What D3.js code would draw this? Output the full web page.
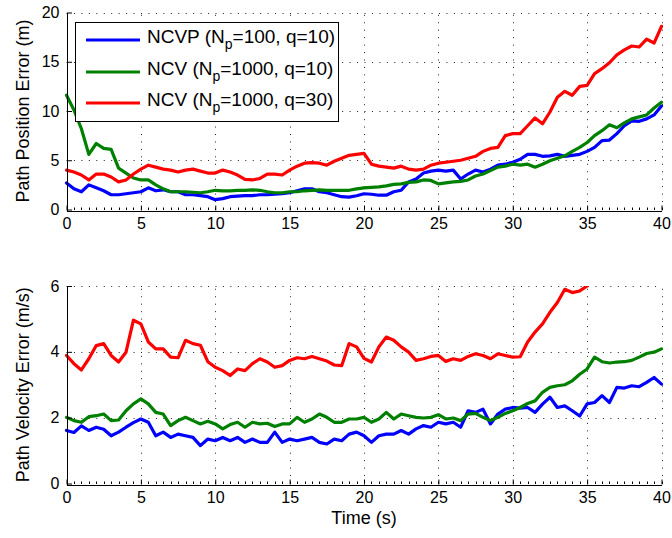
<!DOCTYPE html>
<html><head><meta charset="utf-8">
<script src="https://cdn.jsdelivr.net/npm/d3@7"></script>
<style>
html,body{margin:0;padding:0;background:#fff;}
svg{display:block;font-family:"Liberation Sans",Arial,Helvetica,sans-serif;}
</style></head><body>
<svg id="chart" width="672" height="538"></svg>
<script>
// ---------- data ----------
const time = [0,0.5,1,1.5,2,2.5,3,3.5,4,4.5,
  5,5.5,6,6.5,7,7.5,8,8.5,9,9.5,
  10,10.5,11,11.5,12,12.5,13,13.5,14,14.5,
  15,15.5,16,16.5,17,17.5,18,18.5,19,19.5,
  20,20.5,21,21.5,22,22.5,23,23.5,24,24.5,
  25,25.5,26,26.5,27,27.5,28,28.5,29,29.5,
  30,30.5,31,31.5,32,32.5,33,33.5,34,34.5,
  35,35.5,36,36.5,37,37.5,38,38.5,39,39.5,
  40];
const xTicks = [0,5,10,15,20,25,30,35,40];
const posTicks = [0,5,10,15,20];
const velTicks = [0,2,4,6];
const seriesNames = ["NCVP (N_p=100, q=10)", "NCV (N_p=1000, q=10)", "NCV (N_p=1000, q=30)"];
const seriesColors = ["#0000ff", "#008000", "#ff0000"];
const xLabel = "Time (s)";
const posLabel = "Path Position Error (m)";
const velLabel = "Path Velocity Error (m/s)";

// Path position error
const posNCVP = [2.7,2.1,1.8,2.5,2.2,1.9,1.5,1.5,1.6,1.7,
  1.8,2.2,1.9,2.0,1.8,1.8,1.5,1.5,1.4,1.3,
  1.0,1.1,1.3,1.35,1.4,1.4,1.5,1.5,1.55,1.6,
  1.7,1.9,2.1,2.1,1.8,1.7,1.5,1.3,1.25,1.4,
  1.6,1.55,1.45,1.45,1.8,1.95,2.8,3.1,3.7,3.9,
  4.0,3.9,4.0,3.1,3.6,4.0,3.8,4.1,4.5,4.6,
  4.8,5.1,5.6,5.6,5.4,5.45,5.6,5.4,5.5,5.6,
  5.9,6.3,7.0,7.05,7.7,8.5,9.0,8.95,9.2,9.6,
  10.5];
const posNCV10 = [11.6,10.1,8.2,5.6,6.7,6.2,6.1,4.2,3.7,3.2,
  3.0,3.0,2.5,2.1,1.8,1.8,1.8,1.75,1.7,1.8,
  1.95,1.9,1.9,1.95,1.95,2.0,1.95,1.8,1.7,1.7,
  1.8,1.8,1.9,1.95,2.0,1.95,1.95,1.95,1.95,2.1,
  2.2,2.25,2.3,2.4,2.55,2.6,2.75,2.8,3.0,2.95,
  2.6,2.7,2.8,2.85,3.0,3.4,3.6,3.95,4.3,4.4,
  4.6,4.5,4.6,4.3,4.6,4.95,5.2,5.45,5.9,6.3,
  6.8,7.5,8.0,8.6,8.3,8.8,9.2,9.4,9.6,10.3,
  10.9];
const posNCV30 = [4.0,3.8,3.5,3.0,3.6,3.6,3.3,2.8,3.0,3.6,
  4.1,4.5,4.3,4.1,4.0,3.8,4.0,4.1,3.9,3.7,
  3.7,4.0,3.8,3.5,3.05,3.0,3.15,3.6,3.6,3.5,
  4.0,4.4,4.7,4.75,4.7,4.5,4.9,5.2,5.5,5.6,
  5.7,4.6,4.4,4.3,4.2,4.4,4.1,4.0,4.1,4.5,
  4.7,4.8,4.9,5.0,5.2,5.4,5.9,6.2,6.3,7.5,
  7.7,7.7,8.5,9.3,8.7,9.9,11.4,12.0,11.6,12.5,
  12.6,13.8,14.3,14.9,15.7,16.2,16.6,16.5,17.3,16.9,
  18.6];

// Path velocity error
const velNCVP = [1.61,1.55,1.75,1.61,1.71,1.65,1.45,1.56,1.71,1.85,
  1.96,1.86,1.45,1.56,1.4,1.5,1.45,1.4,1.15,1.35,
  1.3,1.4,1.3,1.4,1.25,1.35,1.25,1.25,1.56,1.25,
  1.35,1.3,1.35,1.4,1.25,1.2,1.35,1.3,1.5,1.56,
  1.45,1.25,1.45,1.5,1.5,1.61,1.5,1.66,1.76,1.71,
  1.86,1.81,1.86,1.71,2.21,2.16,2.26,1.81,2.11,2.26,
  2.31,2.29,2.31,2.16,2.41,2.62,2.31,2.36,2.21,2.05,
  2.42,2.46,2.67,2.46,2.92,2.9,2.97,2.94,3.07,3.22,
  3.02];
const velNCV10 = [2.01,1.91,1.86,2.03,2.06,2.11,1.91,1.93,2.21,2.42,
  2.57,2.42,2.16,2.11,1.76,1.91,2.01,1.91,1.81,1.89,
  1.81,1.66,1.79,1.86,1.71,1.86,1.81,1.83,1.73,1.81,
  1.81,2.01,1.86,1.96,2.11,2.01,1.86,1.86,1.96,1.96,
  2.01,1.86,1.96,2.16,1.96,2.11,2.06,2.01,1.99,2.01,
  2.09,1.96,1.99,1.91,2.11,2.13,2.01,1.91,2.01,2.13,
  2.21,2.31,2.43,2.51,2.77,2.92,2.97,3.0,3.12,3.32,
  3.48,3.84,3.7,3.66,3.69,3.7,3.74,3.84,3.95,3.99,
  4.09];
const velNCV30 = [3.89,3.64,3.45,3.79,4.19,4.25,3.89,3.69,3.99,4.96,
  4.85,4.3,4.09,4.09,3.84,3.82,4.35,4.25,4.2,3.7,
  3.53,3.43,3.28,3.48,3.43,3.64,3.79,3.69,3.53,3.58,
  3.74,3.82,3.79,3.86,3.79,3.72,3.6,3.58,4.25,4.15,
  3.8,3.69,4.15,4.45,4.35,4.15,3.99,3.74,3.79,3.86,
  3.89,3.71,3.79,3.74,3.86,3.94,3.89,3.79,3.94,3.89,
  3.84,3.85,4.3,4.6,4.85,5.2,5.5,5.9,5.8,5.85,
  6.0,null,null,null,null,null,null,null,null,null,
  null];

// ---------- drawing ----------
const svg = d3.select("#chart");
const x = d3.scaleLinear().domain([0, 40]).range([66.5, 661.5]);
const minorTicks = d3.range(0, 40.001, 0.5);
const fontTick = 16, fontLabel = 18, fontLegend = 19;

function panel(id, yDomain, yRange, yTicks, seriesData, yLabel, withXLabel, withLegend) {
  const y = d3.scaleLinear().domain(yDomain).range(yRange);
  const g = svg.append("g");
  const yTop = y(yDomain[1]), yBot = y(yDomain[0]);
  const dash = "1,6.45";

  // dotted grid
  g.append("g").selectAll("line").data(xTicks.filter(v => v > 0)).join("line")
    .attr("x1", d => Math.round(x(d)) + 0.5).attr("x2", d => Math.round(x(d)) + 0.5)
    .attr("y1", yBot).attr("y2", yTop)
    .attr("stroke", "#222").attr("stroke-width", 1).attr("stroke-dasharray", dash);
  g.append("g").selectAll("line").data(yTicks.filter(v => v > yDomain[0])).join("line")
    .attr("x1", x(0)).attr("x2", x(40))
    .attr("y1", d => Math.round(y(d)) + 0.5).attr("y2", d => Math.round(y(d)) + 0.5)
    .attr("stroke", "#222").attr("stroke-width", 1).attr("stroke-dasharray", dash);

  // clip
  g.append("clipPath").attr("id", "clip" + id).append("rect")
    .attr("x", x(0) - 3).attr("y", yTop).attr("width", x(40) - x(0) + 6).attr("height", yBot - yTop);

  const line = d3.line().defined(d => d[1] !== null)
    .x(d => x(d[0])).y(d => y(d[1])).curve(d3.curveLinear);
  g.append("g").attr("clip-path", `url(#clip${id})`)
    .selectAll("path").data(seriesData).join("path")
    .attr("d", (s) => line(time.map((t, i) => [t, s[i]])))
    .attr("fill", "none")
    .attr("stroke", (s, i) => seriesColors[i])
    .attr("stroke-width", 3.2)
    .attr("stroke-linejoin", "round").attr("stroke-linecap", "round");

  // minor x ticks
  g.append("g").selectAll("line").data(minorTicks).join("line")
    .attr("x1", d => Math.round(x(d)) + 0.5).attr("x2", d => Math.round(x(d)) + 0.5)
    .attr("y1", Math.round(yBot)).attr("y2", Math.round(yBot) - 2.5)
    .attr("stroke", "#000").attr("stroke-width", 1);

  // axes
  const xa = g.append("g").attr("transform", `translate(0,${Math.round(yBot) + 0.5})`)
    .call(d3.axisBottom(x).tickValues(xTicks).tickFormat(d3.format("d"))
      .tickSizeInner(-5).tickSizeOuter(0).tickPadding(7));
  const ya = g.append("g").attr("transform", `translate(${x(0)},0)`)
    .call(d3.axisLeft(y).tickValues(yTicks).tickFormat(d3.format("d"))
      .tickSizeInner(-5).tickSizeOuter(0).tickPadding(7));
  [xa, ya].forEach(a => {
    a.select(".domain").attr("stroke", "#000").attr("stroke-width", 1).attr("shape-rendering", "crispEdges");
    a.selectAll(".tick line").attr("stroke", "#000");
    a.selectAll("text").attr("font-size", fontTick).attr("fill", "#000")
      .attr("font-family", '"Liberation Sans",Arial,Helvetica,sans-serif');
  });
  ya.select(".domain").attr("d", `M0.5,${Math.round(yBot)+0.5}V${yTop}`);
  ya.selectAll(".tick line").attr("transform", "translate(0.5,0)");

  // y label
  svg.append("text")
    .attr("transform", `translate(29,${(yTop + yBot) / 2}) rotate(-90)`)
    .attr("text-anchor", "middle").attr("font-size", fontLabel).attr("fill", "#000")
    .text(yLabel);

  if (withXLabel) {
    svg.append("text").attr("x", (x(0) + x(40)) / 2).attr("y", 524)
      .attr("text-anchor", "middle").attr("font-size", fontLabel).attr("fill", "#000")
      .text(xLabel);
  }

  if (withLegend) {
    const lg = svg.append("g");
    lg.append("rect").attr("x", 75.5).attr("y", 22.5).attr("width", 263).attr("height", 99)
      .attr("fill", "#fff").attr("stroke", "#000").attr("stroke-width", 1);
    const rowsY = [40, 72, 103];
    seriesNames.forEach((name, i) => {
      lg.append("line").attr("x1", 86).attr("x2", 140).attr("y1", rowsY[i]).attr("y2", rowsY[i])
        .attr("stroke", seriesColors[i]).attr("stroke-width", 3.2);
      const parts = name.split("_");
      const t = lg.append("text").attr("x", 147).attr("y", rowsY[i] + 3)
        .attr("font-size", fontLegend).attr("fill", "#000");
      t.append("tspan").text(parts[0]);
      t.append("tspan").attr("font-size", 14).attr("dy", 6).text(parts[1][0]);
      t.append("tspan").attr("dy", -6).text(parts[1].slice(1));
    });
  }
}

panel("pos", [0, 20], [209.5, 12.5], posTicks, [posNCVP, posNCV10, posNCV30], posLabel, false, true);
panel("vel", [0, 6], [483.5, 286], velTicks, [velNCVP, velNCV10, velNCV30], velLabel, true, false);
</script>
</body></html>
